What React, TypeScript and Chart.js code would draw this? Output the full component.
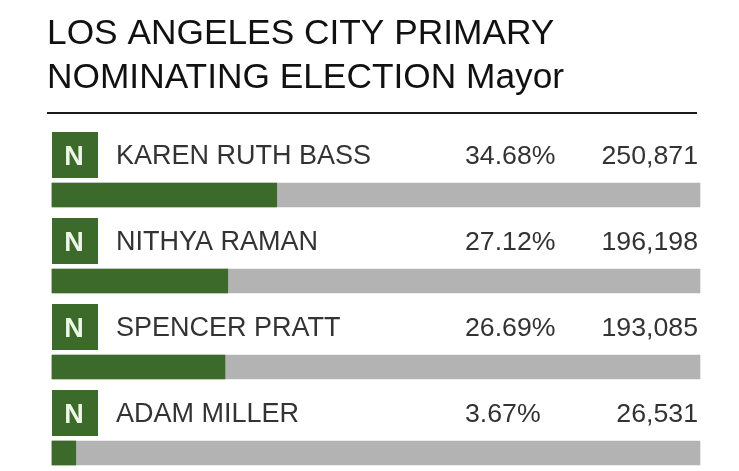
import { useEffect, useRef } from "react";
import { Chart, registerables } from "chart.js";

Chart.register(...registerables);

const titleLines = ["LOS ANGELES CITY PRIMARY", "NOMINATING ELECTION Mayor"];
const candidates = ["KAREN RUTH BASS", "NITHYA RAMAN", "SPENCER PRATT", "ADAM MILLER"];
const partyTags = ["N", "N", "N", "N"];
const percents = [34.68, 27.12, 26.69, 3.67];
const votes = [250871, 196198, 193085, 26531];
const scaleMax = 100;

const GREEN = "#3b6a2b";
const GRAY = "#b3b3b3";
const TEXT = "#333333";
const FONT = '"Liberation Sans", Arial, Helvetica, sans-serif';

const overlay = {
  id: "overlay",
  afterDatasetsDraw(chart: any) {
    const ctx = chart.ctx as CanvasRenderingContext2D;
    const yScale = chart.scales.y;
    const area = chart.chartArea;
    ctx.save();
    // title
    ctx.fillStyle = "#111111";
    ctx.font = `35.3px ${FONT}`;
    ctx.textAlign = "left";
    ctx.textBaseline = "alphabetic";
    ctx.fillText(titleLines[0], 47, 44);
    ctx.fillText(titleLines[1], 47, 87.5);
    // rule
    ctx.fillStyle = "#1a1a1a";
    ctx.fillRect(47, 112, 650, 2);

    candidates.forEach((name, i) => {
      const cy = yScale.getPixelForValue(i);
      const boxTop = cy - 63;
      const boxMid = boxTop + 23;
      ctx.fillStyle = GREEN;
      ctx.fillRect(area.left, boxTop, 46, 46);
      ctx.fillStyle = "#eef6e8";
      ctx.font = `bold 27px ${FONT}`;
      ctx.textAlign = "center";
      ctx.textBaseline = "alphabetic";
      ctx.fillText(partyTags[i], area.left + 22, boxMid + 10);

      ctx.fillStyle = TEXT;
      ctx.font = `27px ${FONT}`;
      ctx.textAlign = "left";
      ctx.textBaseline = "alphabetic";
      ctx.fillText(name, 116, boxMid + 8.5);
      ctx.font = `26.7px ${FONT}`;
      ctx.fillText(percents[i].toFixed(2) + "%", 465, boxMid + 8.5);
      ctx.textAlign = "right";
      ctx.fillText(votes[i].toLocaleString("en-US"), 698, boxMid + 8.5);
    });
    ctx.restore();
  },
};

export default function App() {
  const ref = useRef<HTMLCanvasElement | null>(null);
  useEffect(() => {
    if (!ref.current) return;
    const chart = new Chart(ref.current, {
      type: "bar",
      data: {
        labels: candidates,
        datasets: [
          {
            label: "Percent",
            data: percents,
            backgroundColor: GREEN,
            borderWidth: 0,
            barThickness: 24,
            order: 0,
            clip: false as any,
          },
          {
            label: "Total",
            data: candidates.map(() => scaleMax),
            backgroundColor: GRAY,
            borderWidth: 0,
            barThickness: 24,
            order: 1,
            clip: false as any,
          },
        ],
      },
      options: {
        indexAxis: "y",
        animation: false,
        responsive: false,
        events: [],
        layout: { padding: { left: 52, right: 39, top: 195, bottom: 18 } },
        datasets: { bar: { grouped: false } },
        scales: {
          x: { min: 0, max: scaleMax, display: false },
          y: { display: false, offset: false },
        },
        plugins: {
          legend: { display: false },
          tooltip: { enabled: false },
          title: { display: false },
        },
      },
      plugins: [overlay],
    });
    return () => chart.destroy();
  }, []);
  return (
    <div style={{ position: "fixed", left: 0, top: 0, width: 739, height: 471, background: "#ffffff" }}>
      <canvas ref={ref} width={739} height={471} style={{ width: 739, height: 471, display: "block" }} />
    </div>
  );
}
